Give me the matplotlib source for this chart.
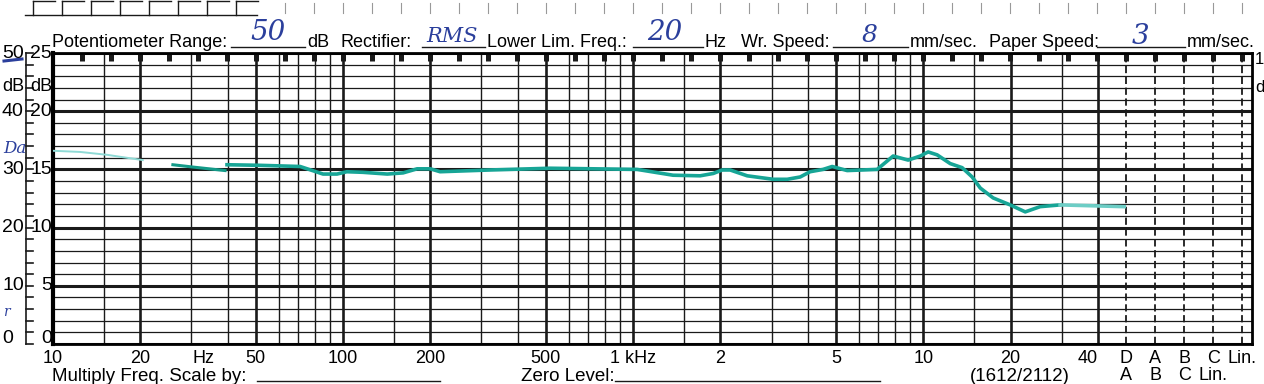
import matplotlib.pyplot as plt
import matplotlib.transforms as mtransforms
from matplotlib.lines import Line2D

plt.rcParams['font.family'] = ['Liberation Sans', 'DejaVu Sans']

# pen trace (Hz, level on the 0-50 dB scale)
faint_freq = [10, 12.4, 15.4, 17.4, 20.4]
faint_db = [33.2, 33.0, 32.5, 32.1, 31.6]

brush_freq = [25.9, 30.4, 39.2]
brush_db = [30.8, 30.4, 29.8]

trace_freq = [39.8, 51.7, 71.1, 85.3, 95.3, 103, 117, 142, 161, 180,
              200, 216, 321, 517, 1032, 1373, 1702, 1888, 2028, 2160,
              2473, 3040, 3397, 3767, 4074, 4519, 4855, 5469, 6938, 7880,
              8878, 9772, 10400, 11170, 12390, 13620, 14750, 15730, 17420, 19950,
              22480, 25310, 29650]
trace_db = [30.8, 30.7, 30.5, 29.2, 29.2, 29.6, 29.5, 29.2, 29.4, 30.1,
            30.1, 29.6, 29.9, 30.2, 30.0, 29.0, 28.9, 29.3, 29.9, 29.9,
            28.9, 28.3, 28.3, 28.7, 29.6, 30.0, 30.5, 29.8, 30.0, 32.3,
            31.6, 32.3, 33.0, 32.5, 31.0, 30.3, 28.7, 26.8, 25.1, 23.9,
            22.7, 23.6, 23.9]

tail_freq = [29650, 49320]
tail_db = [23.9, 23.6]

# chart paper scales
decades = [10, 100, 1000, 10000]
multipliers = [1, 1.5, 2, 3, 4, 5, 6, 7, 8, 9]
heavy_freqs = [10, 20, 50, 100, 200, 500, 1000, 2000, 5000, 10000, 20000, 40000]
weight_freqs = [10 ** 4.7, 10 ** 4.8, 10 ** 4.9, 10 ** 5.0, 10 ** 5.1]
weight_top = ['D', 'A', 'B', 'C', 'Lin.']
weight_bottom = ['A', 'B', 'C', 'Lin.']

tick_freqs = [10, 20, 33, 50, 100, 200, 500, 1000, 2000, 5000, 10000, 20000]
tick_labels = ['10', '20', 'Hz', '50', '100', '200', '500', '1 kHz', '2', '5', '10', '20']

outer_levels = [0, 10, 20, 30, 40, 50]
outer_labels = ['0', '10', '20', '30', '40', '50']
inner_labels = ['0', '5', '10', '15', '20', '25']

GRID = '#1a1a1a'
TEAL = '#17a596'
BLUE = '#2b3f9c'
W, H = 1264, 384


def fx(x):
    return x / W


def fy(y):
    return 1 - y / H


fig = plt.figure(figsize=(W / 100, H / 100), dpi=100)
ax = fig.add_axes([fx(53), 40 / H, 1199 / W, 291 / H])
ax.set_xscale('log')
ax.set_xlim(10, 136000)
ax.set_ylim(0, 50)

# horizontal rulings, 2 dB apart, heavy every 10 dB
for level in range(0, 51, 2):
    ax.axhline(level, color=GRID, lw=2.2 if level % 10 == 0 else 0.9, zorder=1)

# vertical rulings
for d in decades:
    for m in multipliers:
        f = d * m
        if f > 40000:
            continue
        ax.axvline(f, color=GRID, lw=1.9 if f in heavy_freqs else 1.0, zorder=1)
for f in weight_freqs:
    ax.axvline(f, color=GRID, lw=1.3, ls=(0, (4, 2)), zorder=1)

# little square marks hanging from the top edge, every 0.1 decade
mark_freqs = [10 ** (1 + 0.1 * k) for k in range(1, 42)]
ax.vlines(mark_freqs, 48.7, 50, color=GRID, lw=3.6, zorder=2)

# pen trace
ax.plot(faint_freq, faint_db, color='#8fdad5', lw=1.4, zorder=3)
ax.plot(brush_freq, brush_db, color='#139a88', lw=2.2, zorder=3)
ax.plot(trace_freq, trace_db, color=TEAL, lw=2.6, zorder=3, solid_joinstyle='round')
ax.plot(tail_freq, tail_db, color='#6ccdc5', lw=2.6, zorder=3)

for side in ['top', 'right', 'bottom']:
    ax.spines[side].set_linewidth(2.0)
ax.spines['left'].set_linewidth(3.0)

ax.set_xticks(tick_freqs + [40000] + weight_freqs)
ax.set_xticklabels(tick_labels + ['40'] + weight_top)
ax.xaxis.set_minor_locator(plt.NullLocator())
ax.tick_params(axis='x', length=0, pad=4, labelsize=13)
ax.get_xticklabels()[len(tick_labels)].set_horizontalalignment('right')
ax.set_yticks([])

# left scales (the bottom pair sits a little above its line)
ytrans = mtransforms.blended_transform_factory(fig.transFigure, ax.transData)
for lvl, lo, li in zip(outer_levels, outer_labels, inner_labels):
    ypos = lvl + 0.9 if lvl == 0 else lvl
    fig.text(fx(2), ypos, lo, transform=ytrans, ha='left', va='center', fontsize=14)
    fig.text(fx(52), ypos, li, transform=ytrans, ha='right', va='center', fontsize=14)
fig.text(fx(2), 44.2, 'dB', transform=ytrans, ha='left', va='center', fontsize=13)
fig.text(fx(52), 44.2, 'dB', transform=ytrans, ha='right', va='center', fontsize=13)
fig.add_artist(Line2D([fx(26), fx(26)], [0, 50], transform=ytrans, color=GRID, lw=1.2))
for level in range(0, 51, 2):
    fig.add_artist(Line2D([fx(26), fx(33)], [level, level], transform=ytrans,
                          color=GRID, lw=1.2))

# right edge, cut-off scale
fig.text(fx(1255), fy(60), '1', ha='left', va='center', fontsize=12)
fig.text(fx(1255), fy(88), 'd', ha='left', va='center', fontsize=12)

# bottom weighting row
xtrans = mtransforms.blended_transform_factory(ax.transData, fig.transFigure)
for f, lab in zip(weight_freqs, weight_bottom):
    fig.text(f, fy(376), lab, transform=xtrans, ha='center', va='center', fontsize=13)

# header
hdr_y = fy(47)
for x, s in [(52, 'Potentiometer Range:'), (307, 'dB'), (341, 'Rectifier:'),
             (487, 'Lower Lim. Freq.:'), (705, 'Hz'), (741, 'Wr. Speed:'),
             (910, 'mm/sec.'), (989, 'Paper Speed:'), (1187, 'mm/sec.')]:
    fig.text(fx(x), hdr_y, s, ha='left', va='baseline', fontsize=13)
for x0, x1 in [(231, 305), (422, 485), (633, 703), (833, 908), (1097, 1185)]:
    fig.add_artist(Line2D([fx(x0), fx(x1)], [hdr_y, hdr_y], color=GRID, lw=1.0))
for x, y, s, size in [(268, 32, '50', 20), (452, 37, 'RMS', 15), (665, 32, '20', 20),
                      (870, 35, '8', 18), (1140, 36, '3', 20)]:
    fig.text(fx(x), fy(y), s, ha='center', va='center', fontsize=size,
             color=BLUE, style='italic', family='DejaVu Serif')

# footer
ft_y = fy(381)
for x, s in [(52, 'Multiply Freq. Scale by:'), (521, 'Zero Level:'), (970, '(1612/2112)')]:
    fig.text(fx(x), ft_y, s, ha='left', va='baseline', fontsize=13.5)
for x0, x1 in [(257, 440), (615, 880)]:
    fig.add_artist(Line2D([fx(x0), fx(x1)], [ft_y, ft_y], color=GRID, lw=1.0))

# paper edge: boxes at top left and sprocket ticks
fig.add_artist(Line2D([fx(25), fx(257)], [fy(15), fy(15)], color=GRID, lw=1.0))
for k in range(8):
    x0 = 33 + 29 * k
    fig.add_artist(Line2D([fx(x0), fx(x0 + 22)], [fy(1), fy(1)], color=GRID, lw=1.0))
    fig.add_artist(Line2D([fx(x0), fx(x0)], [fy(1), fy(15)], color=GRID, lw=1.0))
edge_freqs = [10 ** (1 + 0.1 * k) for k in range(8, 42)]
for f in edge_freqs:
    fig.add_artist(Line2D([f, f], [fy(3), fy(13)], transform=xtrans, color='#999999', lw=0.8))

# handwritten notes in the margin
fig.add_artist(Line2D([fx(4), fx(22)], [fy(61), fy(59)], color=BLUE, lw=2.2))
fig.text(fx(3), fy(148), 'Da', ha='left', va='center', fontsize=12, color=BLUE,
         style='italic', family='DejaVu Serif')
fig.text(fx(3), fy(312), 'r', ha='left', va='center', fontsize=10, color=BLUE,
         style='italic', family='DejaVu Serif')

fig.savefig('out.png', dpi=100, facecolor='white')
